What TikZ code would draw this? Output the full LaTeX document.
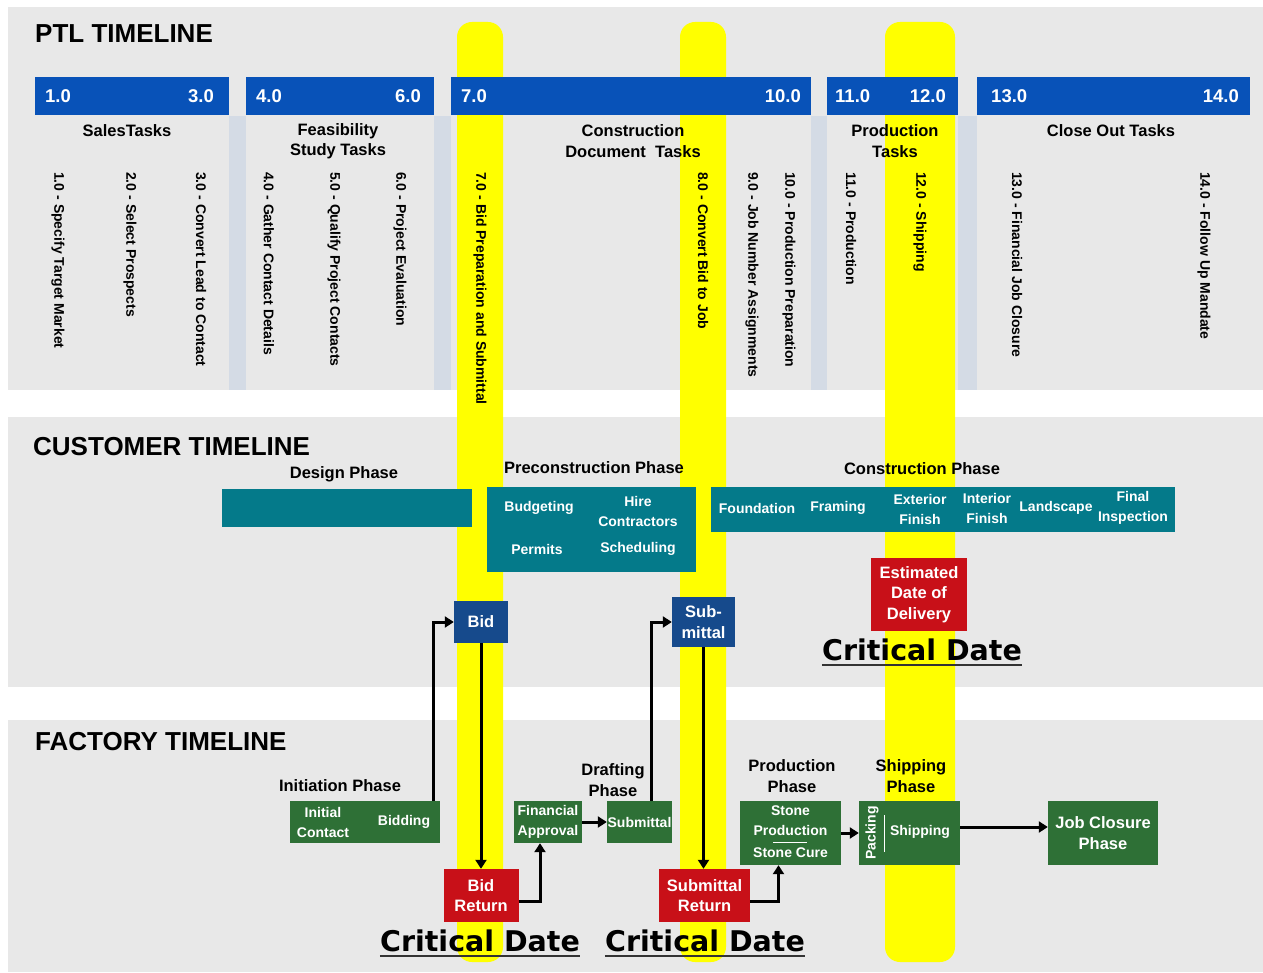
\documentclass[tikz,border=0pt]{standalone}
\usepackage{fontspec}
\setmainfont{Liberation Sans}
\newfontfamily\critfont{DejaVu Sans}
\usepackage{tikz}
\usetikzlibrary{positioning}
\usetikzlibrary{arrows.meta}

\definecolor{gris}{RGB}{232,232,232}
\definecolor{amarillo}{RGB}{255,255,0}
\definecolor{azulptl}{RGB}{8,82,184}
\definecolor{separ}{RGB}{212,219,229}
\definecolor{verdeazul}{RGB}{4,122,138}
\definecolor{azulosc}{RGB}{22,74,140}
\definecolor{rojo}{RGB}{200,16,24}
\definecolor{verde}{RGB}{46,112,54}

\begin{document}
\begin{tikzpicture}[x=1pt, y=-1pt,
    every node/.style={inner sep=0pt},
    panel/.style={fill=gris},
    franja/.style={fill=amarillo, rounded corners=15pt},
    separador/.style={fill=separ},
    cabecera/.style={fill=azulptl, minimum height=38pt, anchor=north west},
    titulo/.style={anchor=west, font=\bfseries\fontsize{26}{30}\selectfont},
    numero/.style={text=white, font=\bfseries\fontsize{18.5}{22}\selectfont},
    fase/.style={align=center, font=\bfseries\fontsize{16.5}{20.5}\selectfont},
    tarea/.style={rotate=-90, anchor=west, font=\bfseries\fontsize{14}{16}\selectfont},
    blanco/.style={text=white, align=center, font=\bfseries\fontsize{14}{20}\selectfont},
    blancog/.style={text=white, align=center, font=\bfseries\fontsize{16.5}{20.5}\selectfont},
    critica/.style={anchor=base, font=\critfont\bfseries\fontsize{28.5}{30}\selectfont},
    subrayado/.style={draw=black!80, line width=2.5pt},
    flecha/.style={line width=3pt, -{Triangle[length=9pt,width=11pt]}}]
  \useasboundingbox[fill=white] (0,0) rectangle (1263,973);

  % Paneles
  \fill[panel] (8,7) rectangle (1263,390);
  \fill[panel] (8,417) rectangle (1263,687);
  \fill[panel] (8,720) rectangle (1263,972);

  % Franjas amarillas
  \fill[franja] (457,22) rectangle (503,962);
  \fill[franja] (680,22) rectangle (726,962);
  \fill[franja] (885,22) rectangle (955,962);

  % Separadores
  \fill[separador] (229,116) rectangle (246,390);
  \fill[separador] (434,116) rectangle (451,390);
  \fill[separador] (811,116) rectangle (827,390);
  \fill[separador] (958,116) rectangle (977,390);

  % PTL
  \node[titulo] (ptl) at (35,34) {PTL TIMELINE};
  \node[cabecera, minimum width=194pt] (hA) at (35,77) {};
  \node[cabecera, minimum width=188pt] (hB) at (246,77) {};
  \node[cabecera, minimum width=360pt] (hC) at (451,77) {};
  \node[cabecera, minimum width=131pt] (hD) at (827,77) {};
  \node[cabecera, minimum width=273pt] (hE) at (977,77) {};

  \node[numero, anchor=west] (n1) at (45,96) {1.0};
  \node[numero, anchor=east] (n3) at (214,96) {3.0};
  \node[numero, anchor=west] (n4) at (256,96) {4.0};
  \node[numero, anchor=east] (n6) at (421,96) {6.0};
  \node[numero, anchor=west] (n7) at (461,96) {7.0};
  \node[numero, anchor=east] (n10) at (801,96) {10.0};
  \node[numero, anchor=west] (n11) at (835,96) {11.0};
  \node[numero, anchor=east] (n12) at (946,96) {12.0};
  \node[numero, anchor=west] (n13) at (991,96) {13.0};
  \node[numero, anchor=east] (n14) at (1239,96) {14.0};

  \node[fase] (ventas) at (127,131) {SalesTasks};
  \node[fase] (factib) at (338,141) {Feasibility\\Study Tasks};
  \node[fase] (docs) at (633,141) {Construction\\Document~ Tasks};
  \node[fase] (prod) at (895,141) {Production\\Tasks};
  \node[fase] (cierre) at (1111,131) {Close Out Tasks};

  \node[tarea] (t1) at (58,172) {1.0 - Specify Target Market};
  \node[tarea] (t2) at (130,172) {2.0 - Select Prospects};
  \node[tarea] (t3) at (201,172) {3.0 - Convert Lead to Contact};
  \node[tarea] (t4) at (269,172) {4.0 - Gather Contact Details};
  \node[tarea] (t5) at (334,172) {5.0 - Qualify Project Contacts};
  \node[tarea] (t6) at (400,172) {6.0 - Project Evaluation};
  \node[tarea] (t7) at (480,172) {7.0 - Bid Preparation and Submittal};
  \node[tarea] (t8) at (703,172) {8.0 - Convert Bid to Job};
  \node[tarea] (t9) at (752,172) {9.0 - Job Number Assignments};
  \node[tarea] (t10) at (789,172) {10.0 - Production Preparation};
  \node[tarea] (t11) at (851,172) {11.0 - Production};
  \node[tarea] (t12) at (920,172) {12.0 - Shipping};
  \node[tarea] (t13) at (1017,172) {13.0 - Financial Job Closure};
  \node[tarea] (t14) at (1204,172) {14.0 - Follow Up Mandate};

  % Cliente
  \node[titulo] (cliente) at (33,447) {CUSTOMER TIMELINE};
  \node[fase] (fdiseno) at (344,474) {Design Phase};
  \node[fase] (fprecon) at (594,468) {Preconstruction Phase};
  \node[fase] (fconstr) at (922,469) {Construction Phase};

  \node[fill=verdeazul, minimum width=250pt, minimum height=38pt] (diseno) at (347,508) {};
  \node[fill=verdeazul, minimum width=209pt, minimum height=85pt] (precon) at (591.5,529.5) {};
  \node[fill=verdeazul, minimum width=464pt, minimum height=45pt] (constr) at (943,509.5) {};

  \node[blanco] (presup) at (539,508) {Budgeting};
  \node[blanco] (contrat) at (638,511) {Hire\\Contractors};
  \node[blanco] (permisos) at (537,549) {Permits};
  \node[blanco] (agenda) at (638,549) {Scheduling};

  \node[blanco] (cimient) at (757,508) {Foundation};
  \node[blanco] (estruct) at (838,508) {Framing};
  \node[blanco] (exterior) at (920,509) {Exterior\\Finish};
  \node[blanco] (interior) at (987,508) {Interior\\Finish};
  \node[blanco] (jardin) at (1056,508) {Landscape};
  \node[blanco] (inspec) at (1133,508) {Final\\Inspection};

  \node[blancog, fill=azulosc, minimum width=54pt, minimum height=42pt] (bid) at (481,622) {Bid};
  \node[blancog, fill=azulosc, minimum width=63pt, minimum height=50pt] (subm) at (703.5,622) {Sub-\\mittal};
  \node[blancog, fill=rojo, minimum width=96pt, minimum height=73pt] (entrega) at (919,594.5) {Estimated\\Date of\\Delivery};
  \node[critica] (cd0) at (922,660) {Critical Date};
  \draw[subrayado] ([yshift=-5pt]cd0.base west) -- ([yshift=-5pt]cd0.base east);

  % Fabrica
  \node[titulo] (fabrica) at (35,742) {FACTORY TIMELINE};
  \node[fase] (finicio) at (340,786) {Initiation Phase};
  \node[fase] (fdibujo) at (613,780) {Drafting\\Phase};
  \node[fase] (fprod) at (792,776) {Production\\Phase};
  \node[fase] (fenvio) at (911,776) {Shipping\\Phase};

  \node[fill=verde, minimum width=150pt, minimum height=42pt] (inicio) at (365,822) {};
  \node[blanco] (contacto) at (323,822) {Initial\\Contact};
  \node[blanco] (licita) at (404,822) {Bidding};
  \node[blanco, fill=verde, minimum width=68pt, minimum height=42pt] (finan) at (548,822) {Financial\\Approval};
  \node[blanco, fill=verde, minimum width=65pt, minimum height=42pt] (submittal) at (639.5,822) {Submittal};

  \node[fill=verde, minimum width=101pt, minimum height=64pt] (piedra) at (790.5,833) {};
  \node[blanco] (prodpiedra) at (790.5,821) {Stone\\Production};
  \node[blanco] (curado) at (790.5,853) {Stone Cure};
  \draw[white, line width=0.7pt] (773,842) -- (807,842);

  \node[fill=verde, minimum width=101pt, minimum height=64pt] (envio) at (909.5,833) {};
  \node[blanco, rotate=90] (empaque) at (872,833) {Packing};
  \node[blanco] (embarque) at (920,832) {Shipping};
  \draw[white, line width=0.7pt] (884,815) -- (884,852);

  \node[blancog, fill=verde, minimum width=110pt, minimum height=64pt] (cierrejob) at (1103,833) {Job Closure\\Phase};

  \node[blancog, fill=rojo, minimum width=75pt, minimum height=53pt] (bidret) at (481,895.5) {Bid\\Return};
  \node[blancog, fill=rojo, minimum width=91pt, minimum height=53pt] (subret) at (704.5,895.5) {Submittal\\Return};
  \node[critica] (cd1) at (480,951) {Critical Date};
  \node[critica] (cd2) at (705,951) {Critical Date};
  \draw[subrayado] ([yshift=-5pt]cd1.base west) -- ([yshift=-5pt]cd1.base east);
  \draw[subrayado] ([yshift=-5pt]cd2.base west) -- ([yshift=-5pt]cd2.base east);

  % Flechas
  \draw[flecha] ([xshift=-7pt]inicio.north east) |- (bid);
  \draw[flecha] (bid) -- (bid |- bidret.north);
  \draw[flecha] ([yshift=-6pt]bidret.east) -| ([xshift=-8pt]finan.south);
  \draw[flecha] (finan) -- (submittal);
  \draw[flecha] ([xshift=-21pt]submittal.north east) |- (subm);
  \draw[flecha] (subm) -- (subm |- subret.north);
  \draw[flecha] ([yshift=-6pt]subret.east) -| ([xshift=-12pt]piedra.south);
  \draw[flecha] (piedra) -- (envio);
  \draw[flecha] ([yshift=6pt]envio.east) -- ([yshift=6pt]cierrejob.west);
\end{tikzpicture}
\end{document}
